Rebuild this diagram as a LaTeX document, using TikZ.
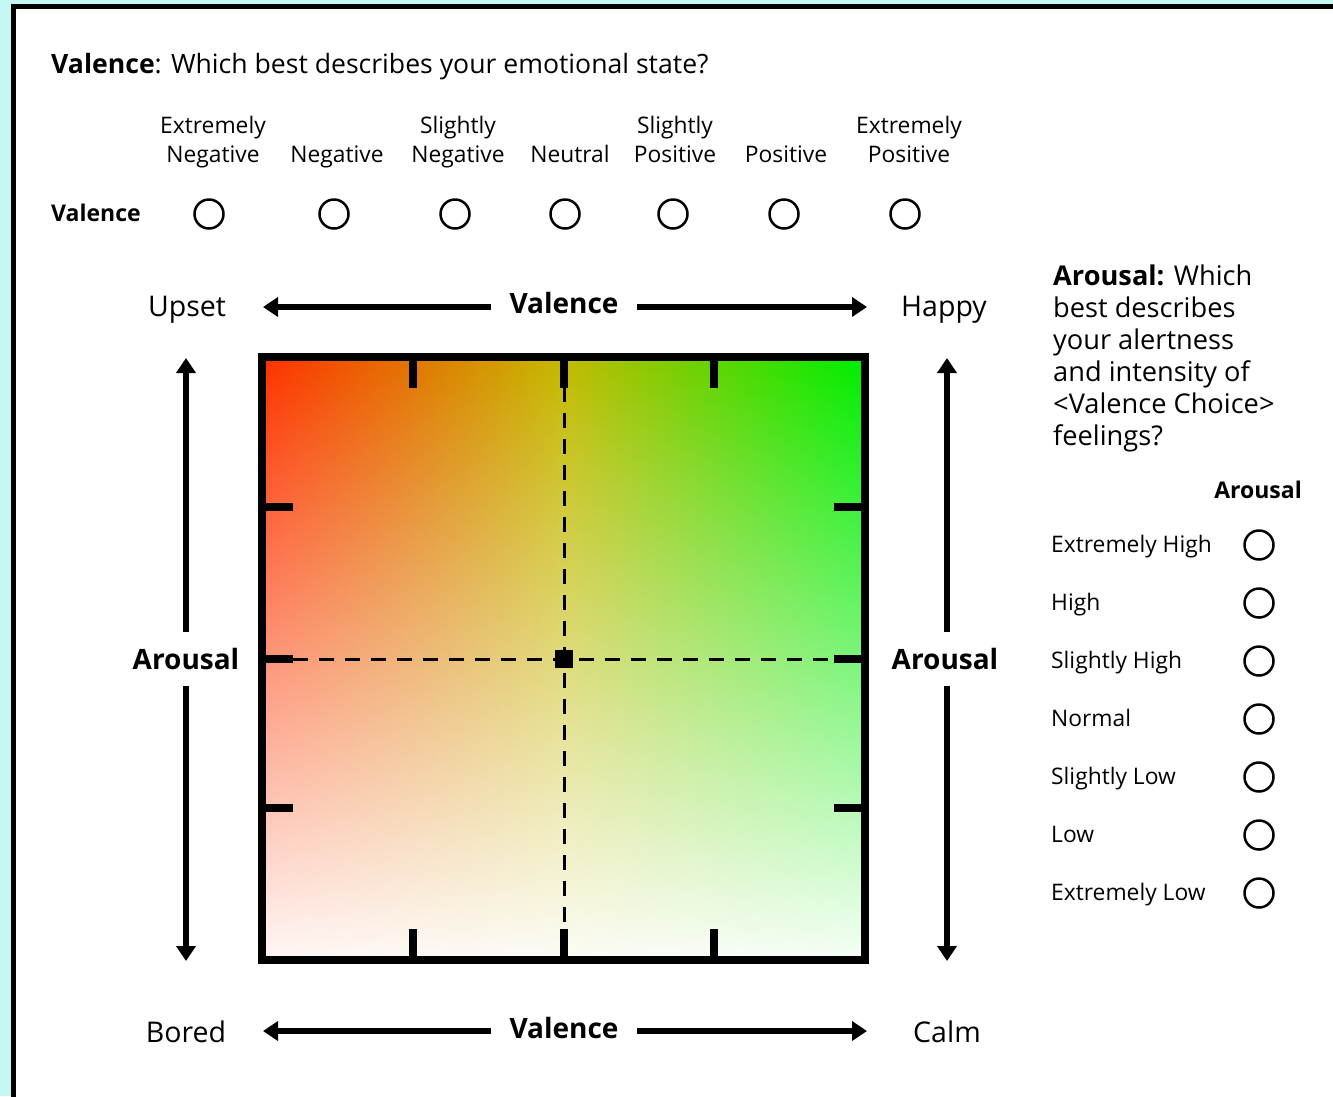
\documentclass[tikz,border=0pt]{standalone}
\usepackage{fontspec}
\setmainfont{Open Sans}
\usetikzlibrary{arrows.meta,fadings}
\definecolor{bgcyan}{HTML}{C4F8F2}
\definecolor{cRed}{HTML}{FF3300}
\definecolor{cMid}{HTML}{C4BA00}
\definecolor{cGreen}{HTML}{00EE00}
\tikzfading[name=whitefade, top color=transparent!100, bottom color=transparent!4]
\begin{document}
\begin{tikzpicture}[x=1pt,y=-1pt,
  title/.style={font=\fontsize{26.6}{32}\selectfont},
  para/.style={font=\fontsize{27.2}{32}\selectfont},
  opt/.style={font=\fontsize{22.8}{29}\selectfont, align=center, anchor=base},
  item/.style={font=\fontsize{22.8}{28}\selectfont, anchor=base west},
  rowname/.style={font=\bfseries\fontsize{23}{28}\selectfont},
  axislabel/.style={font=\fontsize{28.5}{32}\selectfont, anchor=base},
  axisname/.style={font=\bfseries\fontsize{28}{32}\selectfont, anchor=base},
  radio/.style={circle, draw, line width=2.5pt, minimum size=29pt, inner sep=0pt},
  arr/.style={line width=6pt, -{Triangle[length=15pt,width=19pt]}},
  tick/.style={line width=8pt},
  guide/.style={line width=3pt, dash pattern=on 15pt off 11pt}]
\useasboundingbox (0,0) rectangle (1333,1096);
\clip (0,0) rectangle (1333,1096);
% page background and frame
\fill[bgcyan] (0,0) rectangle (1333,1096);
\filldraw[fill=white, draw=black, line width=5pt] (13.5,6) rectangle (1350,1110);

% valence question
\node[title, anchor=base west, inner sep=0pt] (vq) at (51,73) {\textbf{Valence}: Which best describes your emotional state?};
\node[rowname, anchor=base west, inner sep=0pt] (vrow) at (51,221) {Valence};
\foreach \x/\lx/\t [count=\i] in {209/213/Extremely\\Negative, 334/337/Negative, 455/458/Slightly\\Negative, 565/570/Neutral, 673/675/Slightly\\Positive, 784/786/Positive, 905/909/Extremely\\Positive}{
  \node[opt] (vl\i) at (\lx,162) {\t};
  \node[radio] (vc\i) at (\x,214) {};
}

% arousal question
\node[para, anchor=base west, align=left, inner sep=0pt] (aq) at (1053,445) {\textbf{Arousal:} Which\\best describes\\your alertness\\and intensity of\\<Valence Choice>\\feelings?};
\node[rowname, anchor=base east, inner sep=0pt] (arow) at (1302,498) {Arousal};
\foreach \t [count=\i] in {Extremely High, High, Slightly High, Normal, Slightly Low, Low, Extremely Low}{
  \node[item, inner sep=0pt] (al\i) at (1051,{552+58*(\i-1)}) {\t};
  \node[radio] (ac\i) at (1259,{545+58*(\i-1)}) {};
}

% colour field
\shade[left color=cRed, right color=cGreen, middle color=cMid] (266,361) rectangle (861,956);
\fill[white, path fading=whitefade] (266,361) rectangle (861,956);

% guide lines through the centre
\coordinate (gt) at (564,387);
\coordinate (gb) at (564,930);
\coordinate (gl) at (293,659);
\coordinate (gr) at (834,659);
\draw[guide] (gt) -- (gb);
\draw[guide] (gl) -- (gr);
\node[fill=black, minimum size=18pt, inner sep=0pt] (ctr) at (564,659) {};

% ticks
\foreach \x in {413,564,714}{
  \draw[tick] (\x,361) -- (\x,388);
  \draw[tick] (\x,956) -- (\x,929);
}
\foreach \y in {507,659,808}{
  \draw[tick] (266,\y) -- (293,\y);
  \draw[tick] (861,\y) -- (834,\y);
}
\draw[line width=8pt] (262,357) rectangle (865,960);

% axis labels
\node[axislabel] (upset) at (187,316) {Upset};
\node[axislabel] (happy) at (944,316) {Happy};
\node[axislabel] (bored) at (186,1042) {Bored};
\node[axislabel] (calm) at (947,1042) {Calm};
\node[axisname] (vtop) at (564,313) {Valence};
\node[axisname] (vbot) at (564,1038) {Valence};
\node[axisname] (aleft) at (186,669) {Arousal};
\node[axisname] (aright) at (945,669) {Arousal};

% axis arrows
\coordinate (tl0) at (491,307); \coordinate (tl1) at (263,307);
\coordinate (tr0) at (637,307); \coordinate (tr1) at (867,307);
\coordinate (bl0) at (491,1031); \coordinate (bl1) at (263,1031);
\coordinate (br0) at (637,1031); \coordinate (br1) at (867,1031);
\coordinate (lu0) at (186,632); \coordinate (lu1) at (186,358);
\coordinate (ld0) at (186,686); \coordinate (ld1) at (186,961);
\coordinate (ru0) at (947,632); \coordinate (ru1) at (947,358);
\coordinate (rd0) at (947,686); \coordinate (rd1) at (947,961);
\foreach \a/\b in {tl0/tl1, tr0/tr1, bl0/bl1, br0/br1, lu0/lu1, ld0/ld1, ru0/ru1, rd0/rd1}
  \draw[arr] (\a) -- (\b);
\end{tikzpicture}
\end{document}
